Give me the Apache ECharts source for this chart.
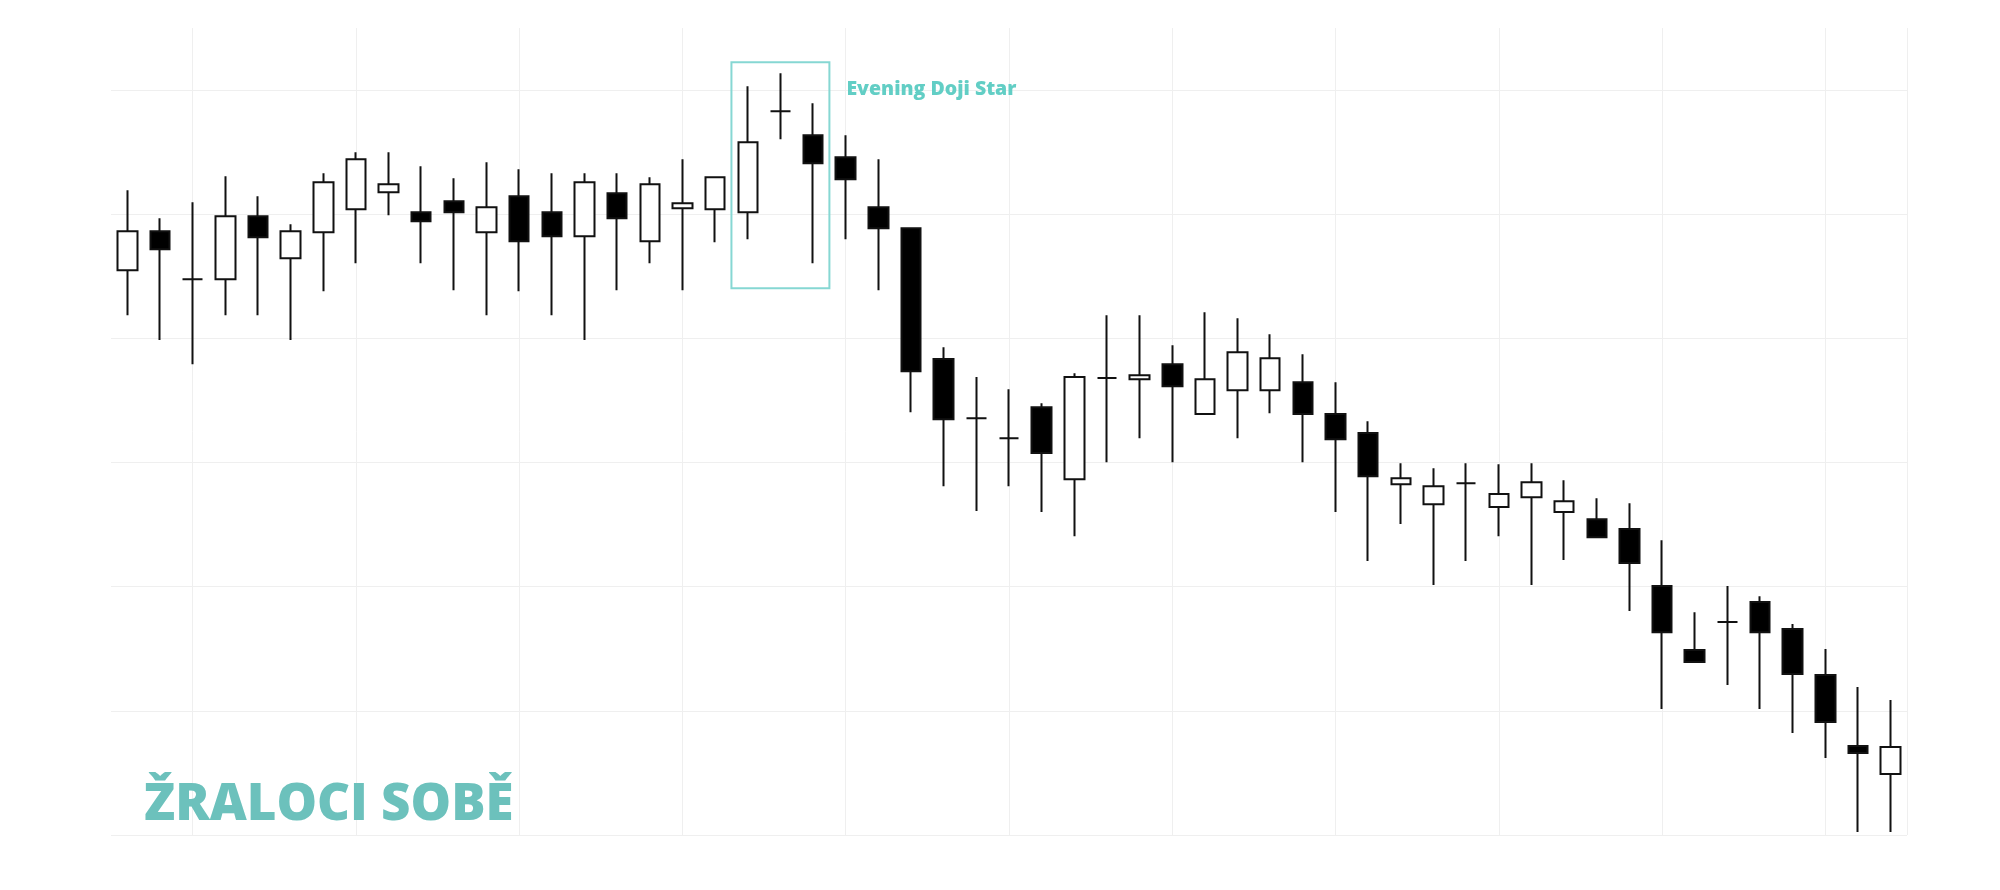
<!DOCTYPE html>
<html>
<head>
<meta charset="utf-8">
<script src="https://cdn.jsdelivr.net/npm/echarts@6/dist/echarts.min.js"></script>
<style>
html,body{margin:0;padding:0;background:#fff;}
#chart{width:2000px;height:890px;}
</style>
</head>
<body>
<div id="chart"></div>
<script>
// Candle labels (sessions)
const categories = Array.from({length: 55}, (_, i) => String(i + 1));

// OHLC values (price units)
const openValues = [
  45.49, 48.63, 44.77, 44.77, 49.84, 46.46, 48.55, 50.40, 51.77, 50.16,
  51.05, 48.55, 51.45, 50.16, 48.23, 51.69, 47.83, 50.48, 50.40, 50.16,
  58.29, 56.36, 54.59, 50.56, 48.87, 38.33, 33.57, 31.96, 34.46, 28.66,
  36.80, 36.71, 37.92, 33.90, 35.83, 35.83, 36.47, 33.90, 32.37, 28.26,
  26.65, 28.34, 26.41, 27.21, 26.01, 25.44, 24.64, 20.05, 14.90, 17.15,
  18.76, 16.59, 12.88, 7.17, 4.91
];
const closeValues = [
  48.63, 47.18, 44.77, 49.84, 48.15, 48.63, 52.58, 54.43, 52.42, 49.44,
  50.16, 50.56, 47.83, 48.23, 52.58, 49.68, 52.42, 50.89, 52.98, 55.80,
  58.29, 54.11, 52.82, 48.87, 37.36, 33.49, 33.57, 31.96, 30.76, 36.88,
  36.80, 37.04, 36.15, 36.71, 38.89, 38.41, 33.90, 31.88, 28.90, 28.74,
  28.10, 28.34, 27.46, 28.42, 26.89, 23.99, 21.90, 16.34, 13.93, 17.15,
  16.34, 12.96, 9.10, 6.60, 7.09
];
const lowValues = [
  41.87, 39.86, 37.92, 41.87, 41.87, 39.86, 43.80, 46.05, 49.92, 46.05,
  43.88, 41.87, 43.80, 41.87, 39.86, 43.88, 46.05, 43.88, 47.75, 47.99,
  56.04, 46.05, 47.99, 43.88, 34.06, 28.10, 26.09, 28.10, 26.01, 24.07,
  30.03, 31.96, 30.03, 33.90, 31.96, 33.98, 30.03, 26.01, 22.06, 25.04,
  20.13, 22.06, 24.07, 20.13, 22.14, 23.99, 18.04, 10.14, 13.93, 12.08,
  10.14, 8.21, 6.20, 0.24, 0.24
];
const highValues = [
  51.93, 49.68, 50.97, 53.06, 51.45, 49.19, 53.30, 54.99, 54.99, 53.86,
  52.90, 54.19, 53.62, 53.30, 53.30, 53.30, 52.98, 54.43, 53.06, 60.31,
  61.35, 58.94, 56.36, 54.43, 48.95, 39.29, 36.88, 35.91, 34.78, 37.20,
  41.87, 41.87, 39.45, 42.11, 41.63, 40.34, 38.73, 36.47, 33.33, 29.95,
  29.55, 29.95, 29.87, 29.95, 28.58, 27.13, 26.73, 23.75, 17.95, 20.05,
  19.24, 16.99, 14.98, 11.92, 10.87
];

// Pattern annotation: first candle index, last candle index, top, bottom
const patternStart = 19;
const patternEnd = 21;
const patternTop = 62.24;
const patternBottom = 44.04;
const patternLabel = 'Evening Doji Star';

const brandText = 'ŽRALOCI SOBĚ';

// Helper axis for vertical grid lines (half-candle steps)
const halfSteps = Array.from({length: 111}, (_, i) => String(i));

const candleData = categories.map((_, i) => [openValues[i], closeValues[i], lowValues[i], highValues[i]]);

const chart = echarts.init(document.getElementById('chart'), null, {renderer: 'canvas'});
chart.setOption({
  backgroundColor: '#ffffff',
  animation: false,
  title: {
    text: brandText,
    left: 139,
    top: 775,
    textStyle: {
      fontFamily: 'Open Sans',
      fontWeight: 800,
      fontSize: 51,
      color: '#6cc1bc'
    }
  },
  grid: {left: 111, right: 93, top: 28, bottom: 55},
  xAxis: [
    {
      type: 'category',
      data: categories,
      boundaryGap: true,
      axisLine: {show: false},
      axisTick: {show: false},
      axisLabel: {show: false},
      splitLine: {show: false}
    },
    {
      type: 'category',
      data: halfSteps,
      boundaryGap: false,
      position: 'top',
      axisLine: {show: false},
      axisTick: {show: false},
      axisLabel: {show: false},
      splitLine: {
        show: true,
        interval: function (index) { return index % 10 === 5 || index === 110; },
        lineStyle: {color: '#efefef', width: 1}
      }
    }
  ],
  yAxis: {
    type: 'value',
    min: 0,
    max: 65,
    interval: 10,
    axisLine: {show: false},
    axisTick: {show: false},
    axisLabel: {show: false},
    splitLine: {show: true, showMaxLine: false, lineStyle: {color: '#efefef', width: 1}}
  },
  series: [
    {
      type: 'candlestick',
      xAxisIndex: 0,
      data: candleData,
      barWidth: 20,
      itemStyle: {
        color: '#ffffff',
        color0: '#000000',
        borderColor: '#111111',
        borderColor0: '#111111',
        borderColorDoji: '#111111',
        borderWidth: 2
      }
    },
    {
      type: 'custom',
      xAxisIndex: 0,
      silent: true,
      encode: {x: [0, 1], y: [2, 3]},
      data: [[patternStart, patternEnd, patternTop, patternBottom]],
      renderItem: function (params, api) {
        const p0 = api.coord([api.value(0), api.value(2)]);
        const p1 = api.coord([api.value(1), api.value(3)]);
        const half = api.size([1, 0])[0] / 2;
        const left = p0[0] - half;
        const right = p1[0] + half;
        return {
          type: 'group',
          children: [
            {
              type: 'rect',
              shape: {x: left, y: p0[1], width: right - left, height: p1[1] - p0[1]},
              style: {fill: 'none', stroke: '#86d7d3', lineWidth: 2}
            },
            {
              type: 'text',
              x: right + 17,
              y: p0[1] + 27,
              style: {
                text: patternLabel,
                fill: '#62cec5',
                font: '800 19.5px "Open Sans"',
                verticalAlign: 'middle',
                align: 'left'
              }
            }
          ]
        };
      }
    }
  ]
});
</script>
</body>
</html>
